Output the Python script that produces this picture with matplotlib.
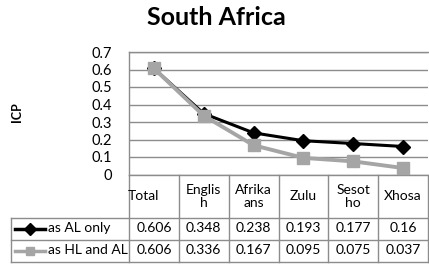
import matplotlib
matplotlib.use("Agg")
import matplotlib.pyplot as plt
from matplotlib.lines import Line2D
import numpy as np

# data
categories = ["Total", "Englis\nh", "Afrika\nans", "Zulu", "Sesot\nho", "Xhosa"]
al_only = [0.606, 0.348, 0.238, 0.193, 0.177, 0.16]
hl_and_al = [0.606, 0.336, 0.167, 0.095, 0.075, 0.037]
al_labels = ["0.606", "0.348", "0.238", "0.193", "0.177", "0.16"]
hl_labels = ["0.606", "0.336", "0.167", "0.095", "0.075", "0.037"]
series_names = ["as AL only", "as HL and AL"]
yticks = [0, 0.1, 0.2, 0.3, 0.4, 0.5, 0.6, 0.7]

plt.rcParams['font.family'] = ['Lato', 'DejaVu Sans']

W, H = 429, 264
fig = plt.figure(figsize=(W / 100, H / 100), dpi=100)

def fx(px):
    return px / W

def fy(py):
    return 1 - py / H

grid_col = '#8c8c8c'
gray = '#a5a5a5'

top, bot = 52, 174.5
ax = fig.add_axes([fx(129), fy(bot), fx(428) - fx(129), fy(top) - fy(bot)])

def ay(py):
    return (bot - py) / (bot - top)

x = np.arange(len(categories)) + 0.5
ax.plot(x, al_only, color='black', lw=2.2, marker='D', ms=7, zorder=3)
ax.plot(x, hl_and_al, color=gray, lw=2.8, marker='s', ms=8, zorder=4)

ax.set_xlim(0, len(categories))
ax.set_ylim(0, 0.7)
ax.set_yticks(yticks)
ax.set_yticklabels(["0" if v == 0 else "%g" % v for v in yticks], fontsize=10.5)
ax.set_xticks([])
ax.tick_params(axis='y', length=0, pad=12)
ax.grid(axis='y', color=grid_col, lw=1)
for s in ax.spines.values():
    s.set_color(grid_col)
    s.set_linewidth(1)
ax.spines['right'].set_visible(False)

fig.text(fx(216), fy(18), "South Africa", ha='center', va='center',
         fontsize=18, fontweight='bold')
fig.text(fx(17), fy(112), "ICP", rotation=90, ha='center', va='center',
         fontsize=9, fontweight='bold')

# data table under the plot
xt = ax.get_xaxis_transform()
row_top, row1, row2, row_bot = 175, 217.5, 239.5, 261.5
for i in range(len(categories) + 1):
    ax.plot([i, i], [ay(row_top), ay(row_bot)], transform=xt, color=grid_col,
            lw=1, clip_on=False)
for py in (row1, row2, row_bot):
    fig.add_artist(Line2D([fx(11), fx(428)], [fy(py), fy(py)], color=grid_col, lw=1))
fig.add_artist(Line2D([fx(11), fx(11)], [fy(row1), fy(row_bot)], color=grid_col, lw=1))

for i, c in enumerate(categories):
    xi = x[i] - 0.22 if i == 0 else x[i]
    ax.text(xi, ay((row_top + row1) / 2), c, transform=xt, ha='center',
            va='center', fontsize=10, linespacing=1.1)
    ax.text(x[i], ay((row1 + row2) / 2), al_labels[i], transform=xt,
            ha='center', va='center', fontsize=10)
    ax.text(x[i], ay((row2 + row_bot) / 2), hl_labels[i], transform=xt,
            ha='center', va='center', fontsize=10)

# legend keys in the row headers
for (ya, yb), name, col, mk, ms in [((row1, row2), series_names[0], 'black', 'D', 6),
                                    ((row2, row_bot), series_names[1], gray, 's', 6)]:
    ym = fy((ya + yb) / 2)
    fig.add_artist(Line2D([fx(15), fx(45)], [ym, ym], color=col, lw=2.5))
    fig.add_artist(Line2D([fx(30)], [ym], color=col, marker=mk, ms=ms, lw=0))
    fig.text(fx(48), ym, name, ha='left', va='center', fontsize=10)

fig.savefig("out.png", dpi=100)
